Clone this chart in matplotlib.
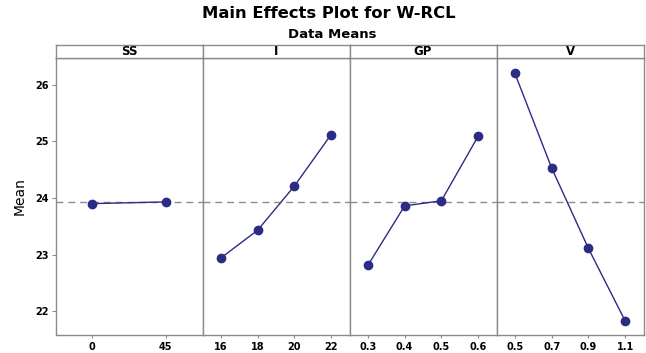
import matplotlib
matplotlib.use("Agg")
import matplotlib.pyplot as plt

# factor names and levels
factors = ["SS", "I", "GP", "V"]
ss_levels = ["0", "45"]
i_levels = ["16", "18", "20", "22"]
gp_levels = ["0.3", "0.4", "0.5", "0.6"]
v_levels = ["0.5", "0.7", "0.9", "1.1"]

# mean W-RCL at each level
ss_means = [23.90, 23.93]
i_means = [22.94, 23.43, 24.21, 25.12]
gp_means = [22.81, 23.86, 23.95, 25.09]
v_means = [26.20, 24.53, 23.11, 21.83]

grand_mean = 23.92
y_ticks = [22, 23, 24, 25, 26]

LINE = "#2b2c84"
FRAME = "#8a8a8a"
W, H = 646, 353

fig = plt.figure(figsize=(W / 100, H / 100), dpi=100)
fig.patch.set_facecolor("white")

left, right = 55.5 / W, 643.5 / W
bottom, top = 1 - 335 / H, 1 - 57.5 / H
strip_top = 1 - 45 / H
pw = (right - left) / 4

levels = [ss_levels, i_levels, gp_levels, v_levels]
means = [ss_means, i_means, gp_means, v_means]

for k, name in enumerate(factors):
    x0 = left + k * pw
    ax = fig.add_axes([x0, bottom, pw, top - bottom])
    xs = list(range(len(levels[k])))
    ax.axhline(grand_mean, color="#8c8c8c", lw=1.0, ls=(0, (5, 3.5)), zorder=1)
    ax.plot(xs, means[k], color=LINE, lw=1.0, marker="o", ms=6,
            markerfacecolor=LINE, markeredgecolor=LINE, zorder=3)
    ax.set_xlim(-0.5, len(xs) - 0.5)
    ax.set_ylim(21.58, 26.48)
    ax.set_xticks(xs)
    ax.set_xticklabels(levels[k], fontsize=7, fontweight="bold")
    ax.tick_params(axis="x", length=2, width=0.8, color=FRAME, pad=3)
    if k == 0:
        ax.set_yticks(y_ticks)
        ax.set_yticklabels([str(t) for t in y_ticks], fontsize=7, fontweight="bold")
        ax.tick_params(axis="y", length=3, width=0.8, color=FRAME, pad=2)
        ax.set_ylabel("Mean", fontsize=10, labelpad=6)
    else:
        ax.set_yticks([])
    for s in ax.spines.values():
        s.set_color(FRAME)
        s.set_linewidth(1.0)

    # strip header for the factor
    sax = fig.add_axes([x0, top, pw, strip_top - top])
    sax.set_xticks([])
    sax.set_yticks([])
    for s in sax.spines.values():
        s.set_color(FRAME)
        s.set_linewidth(1.0)
    sax.text(0.5, 0.45, name, ha="center", va="center", fontsize=8.5,
             fontweight="bold", transform=sax.transAxes)

fig.text(329 / W, 1 - 13 / H, "Main Effects Plot for W-RCL", ha="center", va="center",
         fontsize=11.8, fontweight="bold")
fig.text(332 / W, 1 - 34 / H, "Data Means", ha="center", va="center",
         fontsize=9.5, fontweight="bold")

fig.savefig("out.png", dpi=100)
